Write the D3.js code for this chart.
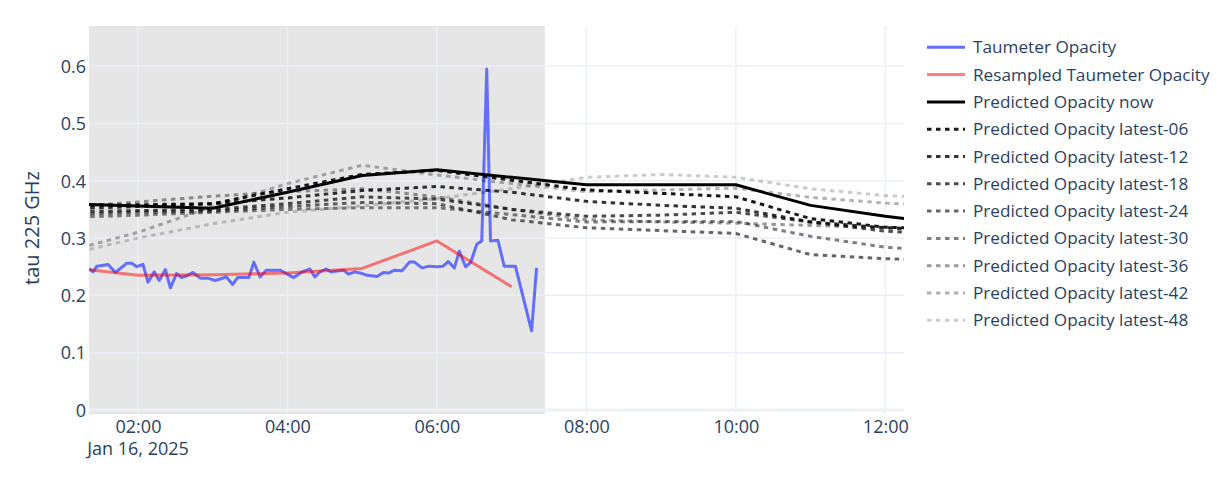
<!DOCTYPE html>
<html>
<head>
<meta charset="utf-8">
<script src="https://cdn.jsdelivr.net/npm/d3@7"></script>
<style>
  html, body { margin: 0; padding: 0; background: #fff; }
  svg { display: block; }
  text { font-family: "Open Sans", "DejaVu Sans", sans-serif; fill: #2a3f5f; }
</style>
</head>
<body>
<svg id="chart" width="1232" height="489"></svg>
<script>
// ---------------- DATA ----------------
const dateLabel = "Jan 16, 2025";
const day = "2025-01-16";

const taumeterTimes = ["01:21","01:24","01:27","01:31","01:36","01:42","01:51","01:55","01:59","02:04","02:08","02:13","02:17","02:22","02:26","02:31","02:35","02:39","02:44","02:50","02:56","03:02","03:11","03:16","03:20","03:29","03:33","03:38","03:43","03:54","04:05","04:11","04:18","04:22","04:26","04:31","04:35","04:45","04:49","04:54","05:00","05:04","05:12","05:17","05:21","05:26","05:32","05:38","05:42","05:48","05:54","06:00","06:05","06:09","06:14","06:18","06:23","06:27","06:32","06:36","06:40","06:43","06:49","06:54","07:03","07:16","07:20"];
const taumeterValues = [0.246,0.241,0.251,0.252,0.254,0.240,0.256,0.256,0.250,0.254,0.223,0.241,0.226,0.245,0.213,0.238,0.231,0.234,0.240,0.230,0.230,0.226,0.232,0.219,0.231,0.231,0.258,0.232,0.244,0.244,0.231,0.240,0.246,0.232,0.241,0.246,0.241,0.244,0.237,0.241,0.238,0.235,0.233,0.240,0.239,0.244,0.243,0.258,0.258,0.248,0.251,0.250,0.251,0.259,0.248,0.277,0.250,0.257,0.289,0.295,0.595,0.295,0.296,0.251,0.251,0.138,0.248];

const resampledTimes = ["01:00","02:00","03:00","04:00","05:00","06:00","07:00"];
const resampledValues = [0.250,0.235,0.236,0.239,0.247,0.295,0.215];

const predTimes = ["01:00","02:00","03:00","04:00","05:00","06:00","07:00","08:00","09:00","10:00","11:00","12:00","13:00"];
const predNow      = [0.360,0.356,0.352,0.380,0.409,0.419,0.406,0.393,0.393,0.393,0.357,0.338,0.322];
const predLatest06 = [0.357,0.358,0.360,0.386,0.411,0.418,0.401,0.384,0.378,0.372,0.334,0.319,0.315];
const predLatest12 = [0.351,0.355,0.360,0.370,0.383,0.390,0.380,0.364,0.357,0.352,0.328,0.318,0.312];
const predLatest18 = [0.346,0.348,0.350,0.360,0.372,0.368,0.350,0.338,0.340,0.345,0.328,0.312,0.305];
const predLatest24 = [0.341,0.345,0.347,0.355,0.362,0.360,0.332,0.318,0.313,0.308,0.271,0.264,0.260];
const predLatest30 = [0.336,0.340,0.345,0.350,0.353,0.353,0.341,0.328,0.329,0.329,0.303,0.284,0.275];
const predLatest36 = [0.353,0.363,0.373,0.381,0.386,0.372,0.350,0.332,0.328,0.326,0.322,0.318,0.315];
const predLatest42 = [0.275,0.310,0.355,0.395,0.427,0.410,0.395,0.381,0.384,0.387,0.371,0.361,0.355];
const predLatest48 = [0.270,0.300,0.325,0.345,0.356,0.369,0.386,0.406,0.411,0.406,0.386,0.374,0.370];

const yTicks = [0, 0.1, 0.2, 0.3, 0.4, 0.5, 0.6];
const xTickTimes = ["02:00","04:00","06:00","08:00","10:00","12:00"];
const xDomainTimes = ["01:20:40","12:15:00"];
const shadeTimes = ["01:20:40","07:26:40"];

const seriesNames = ["Taumeter Opacity","Resampled Taumeter Opacity","Predicted Opacity now",
  "Predicted Opacity latest-06","Predicted Opacity latest-12","Predicted Opacity latest-18",
  "Predicted Opacity latest-24","Predicted Opacity latest-30","Predicted Opacity latest-36",
  "Predicted Opacity latest-42","Predicted Opacity latest-48"];

// ---------------- CHART ----------------
const parseT = s => new Date(day + "T" + (s.length === 5 ? s + ":00" : s) + "Z");

const W = 1232, H = 489;
const plot = { left: 89, right: 904, top: 26, bottom: 414 };

const svg = d3.select("#chart");
svg.append("rect").attr("width", W).attr("height", H).attr("fill", "#fff");

const x = d3.scaleUtc().domain(xDomainTimes.map(parseT)).range([plot.left, plot.right]);
const y = d3.scaleLinear().domain([-0.007, 0.670]).range([plot.bottom, plot.top]);

svg.append("defs").append("clipPath").attr("id", "clip")
  .append("rect").attr("x", plot.left).attr("y", plot.top)
  .attr("width", plot.right - plot.left).attr("height", plot.bottom - plot.top);

// shaded region (below grid)
svg.append("rect")
  .attr("x", x(parseT(shadeTimes[0]))).attr("y", plot.top)
  .attr("width", x(parseT(shadeTimes[1])) - x(parseT(shadeTimes[0])))
  .attr("height", plot.bottom - plot.top)
  .attr("fill", "rgb(128,128,128)").attr("fill-opacity", 0.2);

// grid
const grid = svg.append("g");
xTickTimes.forEach(t => {
  const xx = x(parseT(t));
  grid.append("line").attr("x1", xx).attr("x2", xx).attr("y1", plot.top).attr("y2", plot.bottom)
    .attr("stroke", "#EBF0F8").attr("stroke-width", 1.5);
});
yTicks.forEach(v => {
  if (v === 0) return;
  grid.append("line").attr("x1", plot.left).attr("x2", plot.right).attr("y1", y(v)).attr("y2", y(v))
    .attr("stroke", "#EBF0F8").attr("stroke-width", 1.5);
});
grid.append("line").attr("x1", plot.left).attr("x2", plot.right).attr("y1", y(0)).attr("y2", y(0))
  .attr("stroke", "#EBF0F8").attr("stroke-width", 3);

// axes labels using d3 axes (domain hidden)
const yAxis = d3.axisLeft(y).tickValues(yTicks).tickSize(0).tickPadding(0)
  .tickFormat(d => d === 0 ? "0" : d3.format(".1f")(d));
const yg = svg.append("g").attr("transform", `translate(${plot.left - 3},0)`).call(yAxis);
yg.select(".domain").remove();
yg.selectAll("text").attr("font-size", 18).attr("fill", "#2a3f5f")
  .attr("font-family", '"Open Sans", sans-serif').attr("dy", "0.35em");

const xAxis = d3.axisBottom(x).tickValues(xTickTimes.map(parseT)).tickSize(0).tickPadding(0)
  .tickFormat(d3.utcFormat("%H:%M"));
const xg = svg.append("g").attr("transform", `translate(0,${plot.bottom})`).call(xAxis);
xg.select(".domain").remove();
xg.selectAll("text").attr("font-size", 18).attr("fill", "#2a3f5f")
  .attr("font-family", '"Open Sans", sans-serif').attr("dy", null).attr("y", 19);
svg.append("text").attr("x", x(parseT(xTickTimes[0]))).attr("y", 455)
  .attr("text-anchor", "middle").attr("font-size", 18).text(dateLabel);

// y title
svg.append("text").attr("transform", "translate(39,228) rotate(-90)")
  .attr("text-anchor", "middle").attr("font-size", 20).text("tau 225 GHz");

// traces
const traces = svg.append("g").attr("clip-path", "url(#clip)");
const line = d3.line().x(d => x(d[0])).y(d => y(d[1]));

const predSeries = [predLatest06, predLatest12, predLatest18, predLatest24, predLatest30, predLatest36, predLatest42, predLatest48];
const predAlphas = [0.9, 0.8, 0.7, 0.6, 0.5, 0.4, 0.3, 0.2];

const styles = [
  { color: "#636efa", opacity: 1, dash: null },
  { color: "rgb(255,0,0)", opacity: 0.5, dash: null },
  { color: "#000", opacity: 1, dash: null },
  ...predAlphas.map(a => ({ color: "#000", opacity: a, dash: "4.5,4.5" }))
];
const data = [
  taumeterTimes.map((t, i) => [parseT(t), taumeterValues[i]]),
  resampledTimes.map((t, i) => [parseT(t), resampledValues[i]]),
  predTimes.map((t, i) => [parseT(t), predNow[i]]),
  ...predSeries.map(s => predTimes.map((t, i) => [parseT(t), s[i]]))
];

data.forEach((d, i) => {
  traces.append("path").datum(d).attr("d", line)
    .attr("fill", "none").attr("stroke", styles[i].color)
    .attr("stroke-opacity", styles[i].opacity)
    .attr("stroke-width", 3)
    .attr("stroke-linejoin", "round")
    .attr("stroke-dasharray", styles[i].dash);
});

// legend
const legend = svg.append("g");
seriesNames.forEach((name, i) => {
  const yy = 47.3 + i * 27.3;
  legend.append("line").attr("x1", 927).attr("x2", 965).attr("y1", yy).attr("y2", yy)
    .attr("stroke", styles[i].color).attr("stroke-opacity", styles[i].opacity)
    .attr("stroke-width", 3).attr("stroke-dasharray", styles[i].dash);
  legend.append("text").attr("x", 973).attr("y", yy).attr("dy", "0.35em")
    .attr("font-size", 17.2).text(name);
});
</script>
</body>
</html>
